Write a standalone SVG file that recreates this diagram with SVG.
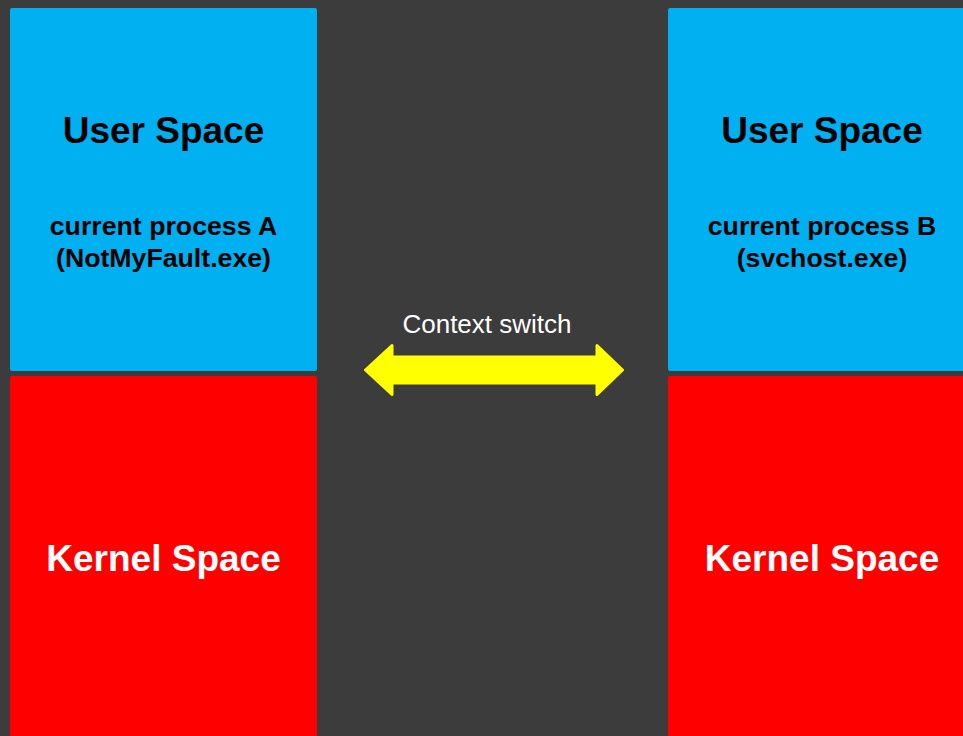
<svg xmlns="http://www.w3.org/2000/svg" width="963" height="736" viewBox="0 0 963 736">
<style>
.bg{fill:#3c3c3c}
.user{fill:#00b0f0}
.kern{fill:#ff0000}
.t{font-family:"Liberation Sans",Arial,sans-serif;text-anchor:middle;font-weight:bold}
.big{font-size:37px}
.mid{font-size:26.7px}
.blk{fill:#000}
.wht{fill:#fff}
.lbl{font-family:"Liberation Sans",Arial,sans-serif;font-size:26px;fill:#fff;text-anchor:middle}
.arrow{fill:#ffff00;stroke:#ffff00;stroke-width:3;stroke-linejoin:round}
</style>
<rect class="bg" x="0" y="0" width="963" height="736"/>
<g id="userA">
<rect class="user" x="10" y="8" width="307" height="363" rx="2"/>
<text class="t big blk" x="163.5" y="143">User Space</text>
<text class="t mid blk" x="163.5" y="235">current process A</text>
<text class="t mid blk" x="163.5" y="266.5">(NotMyFault.exe)</text>
</g>
<g id="kernelA">
<rect class="kern" x="10" y="376" width="307" height="370" rx="2"/>
<text class="t big wht" x="163.5" y="571">Kernel Space</text>
</g>
<g id="userB">
<rect class="user" x="668" y="8" width="308" height="363" rx="2"/>
<text class="t big blk" x="822" y="143">User Space</text>
<text class="t mid blk" x="822" y="235">current process B</text>
<text class="t mid blk" x="822" y="266.5">(svchost.exe)</text>
</g>
<g id="kernelB">
<rect class="kern" x="668" y="376" width="308" height="370" rx="2"/>
<text class="t big wht" x="822" y="571">Kernel Space</text>
</g>
<g id="connectors">
<polygon class="arrow" points="365.5,370 392,345.5 392,357 597,357 597,345.5 622.5,370 597,394.5 597,383 392,383 392,394.5"/>
<text class="lbl" x="487" y="333">Context switch</text>
</g>
</svg>
